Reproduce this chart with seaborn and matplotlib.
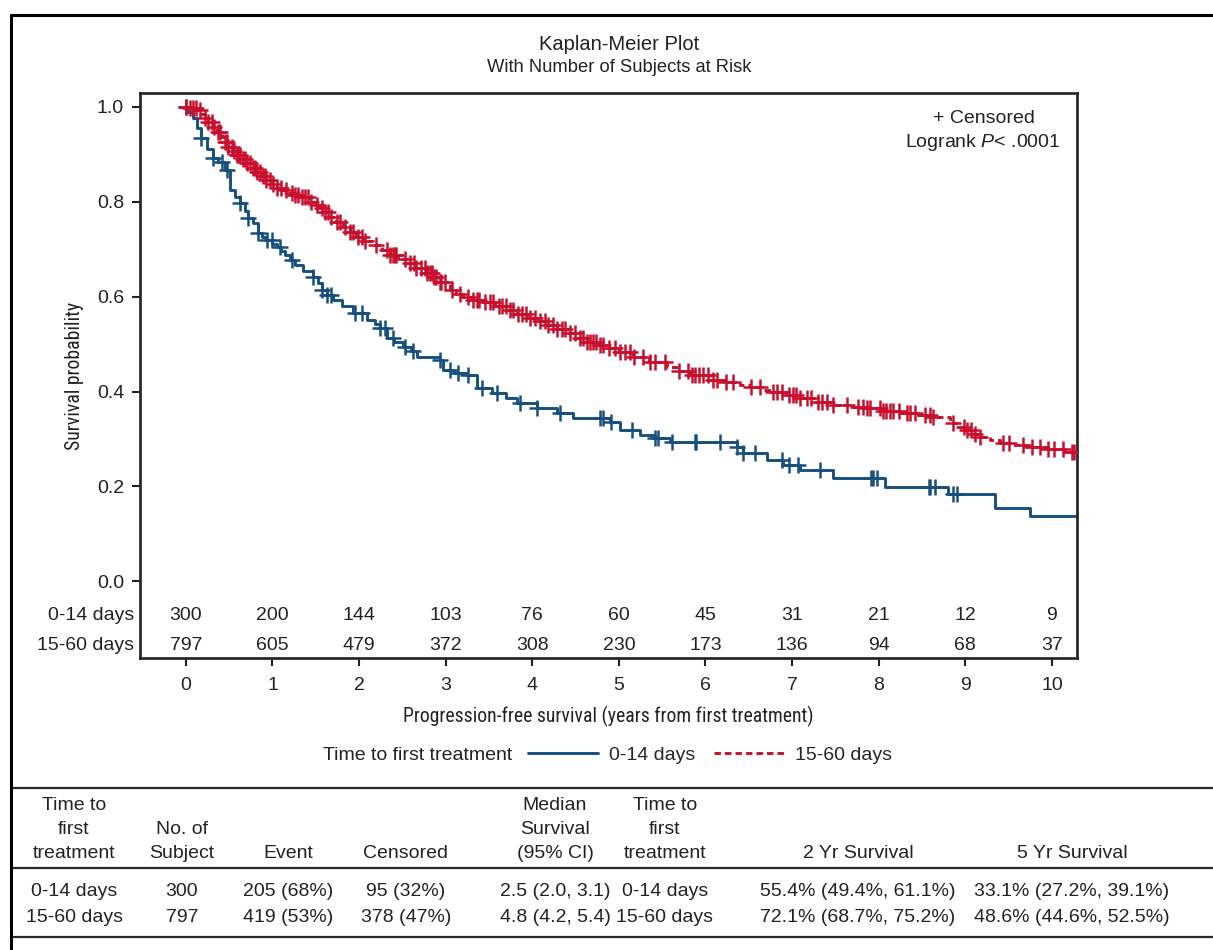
import numpy as np
import pandas as pd
import matplotlib
matplotlib.use('Agg')
import matplotlib.pyplot as plt
import seaborn as sns
from matplotlib import font_manager
from matplotlib.lines import Line2D

# ---- data ----
groups = ['0-14 days', '15-60 days']

# Kaplan-Meier steps (years, survival), 0-14 days
km_time_a = [0, 0.03, 0.08, 0.13, 0.18, 0.24, 0.31, 0.37, 0.45, 0.51, 0.57, 0.62, 0.68, 0.72,
             0.78, 0.83, 0.88, 0.93, 1.00, 1.05, 1.10, 1.14, 1.20, 1.26, 1.35, 1.47, 1.52, 1.57,
             1.63, 1.70, 1.80, 1.93, 2.09, 2.18, 2.24, 2.32, 2.40, 2.51, 2.60, 2.67, 2.93, 2.97,
             3.10, 3.24, 3.36, 3.54, 3.70, 3.82, 4.05, 4.28, 4.47, 4.90, 5.01, 5.24, 5.42, 5.59,
             6.36, 6.43, 6.71, 6.89, 7.09, 7.47, 8.07, 8.80, 9.34, 9.75, 10.3]
km_surv_a = [1.0, 0.99, 0.977, 0.955, 0.934, 0.912, 0.892, 0.885, 0.867, 0.825, 0.81, 0.797, 0.78,
             0.766, 0.755, 0.734, 0.725, 0.719, 0.712, 0.705, 0.697, 0.688, 0.678, 0.667, 0.655,
             0.641, 0.628, 0.614, 0.603, 0.593, 0.58, 0.565, 0.551, 0.542, 0.534, 0.513, 0.505,
             0.494, 0.485, 0.473, 0.466, 0.445, 0.44, 0.435, 0.407, 0.397, 0.387, 0.375, 0.365,
             0.354, 0.344, 0.335, 0.319, 0.308, 0.302, 0.293, 0.283, 0.270, 0.255, 0.245, 0.234,
             0.217, 0.198, 0.184, 0.154, 0.137, 0.137]
censor_a = [0.0, 0.18, 0.31, 0.42, 0.47, 0.62, 0.72, 0.83, 0.94, 0.99, 1.09, 1.22, 1.47, 1.57,
            1.63, 1.68, 1.95, 2.03, 2.24, 2.30, 2.39, 2.53, 2.62, 2.93, 3.05, 3.14, 3.26, 3.42,
            3.59, 3.86, 4.05, 4.32, 4.78, 4.82, 4.91, 5.15, 5.42, 5.45, 5.61, 5.88, 5.89, 6.17,
            6.36, 6.43, 6.57, 6.88, 6.97, 7.07, 7.32, 7.91, 7.93, 7.98, 8.58, 8.59, 8.65, 8.86,
            8.90]

# Kaplan-Meier steps, 15-60 days
km_time_b = [0, 0.05, 0.14, 0.18, 0.22, 0.26, 0.31, 0.36, 0.42, 0.45, 0.49, 0.54, 0.59, 0.64,
             0.70, 0.76, 0.82, 0.87, 0.93, 0.99, 1.05, 1.11, 1.17, 1.25, 1.32, 1.43, 1.49, 1.55,
             1.60, 1.66, 1.73, 1.81, 1.89, 1.97, 2.06, 2.16, 2.26, 2.36, 2.45, 2.55, 2.66, 2.78,
             2.85, 2.93, 3.05, 3.12, 3.20, 3.30, 3.43, 3.57, 3.71, 3.82, 3.94, 4.05, 4.17, 4.28,
             4.40, 4.51, 4.63, 4.75, 4.86, 5.00, 5.16, 5.35, 5.55, 5.68, 5.82, 6.05, 6.22, 6.40,
             6.51, 6.65, 6.78, 6.95, 7.09, 7.28, 7.47, 7.66, 7.86, 8.05, 8.24, 8.45, 8.63, 8.82,
             8.92, 9.02, 9.10, 9.17, 9.28, 9.40, 9.55, 9.71, 9.95, 10.15, 10.3]
km_surv_b = [1.0, 0.997, 0.994, 0.985, 0.977, 0.968, 0.958, 0.948, 0.937, 0.927, 0.916, 0.907,
             0.899, 0.89, 0.882, 0.872, 0.863, 0.855, 0.846, 0.837, 0.829, 0.824, 0.819, 0.815,
             0.810, 0.800, 0.794, 0.787, 0.778, 0.768, 0.758, 0.747, 0.736, 0.726, 0.717, 0.709,
             0.698, 0.688, 0.680, 0.671, 0.660, 0.650, 0.641, 0.631, 0.614, 0.606, 0.599, 0.594,
             0.589, 0.580, 0.572, 0.563, 0.555, 0.548, 0.540, 0.531, 0.523, 0.513, 0.504, 0.498,
             0.492, 0.483, 0.473, 0.462, 0.451, 0.443, 0.435, 0.424, 0.419, 0.414, 0.409, 0.404,
             0.399, 0.392, 0.386, 0.378, 0.371, 0.368, 0.365, 0.359, 0.354, 0.350, 0.346, 0.333,
             0.326, 0.319, 0.311, 0.304, 0.297, 0.291, 0.287, 0.283, 0.278, 0.272, 0.272]
censor_b = [0.0, 0.05, 0.08, 0.12, 0.16, 0.22, 0.26, 0.30, 0.33, 0.37, 0.39, 0.45, 0.47, 0.49,
            0.53, 0.55, 0.59, 0.60, 0.62, 0.66, 0.68, 0.70, 0.74, 0.78, 0.80, 0.82, 0.85, 0.89,
            0.91, 0.93, 0.97, 1.01, 1.05, 1.10, 1.16, 1.22, 1.26, 1.30, 1.34, 1.37, 1.41, 1.45,
            1.51, 1.57, 1.61, 1.64, 1.68, 1.74, 1.78, 1.84, 1.89, 1.93, 1.99, 2.03, 2.07, 2.20,
            2.32, 2.36, 2.39, 2.41, 2.43, 2.53, 2.59, 2.63, 2.66, 2.72, 2.76, 2.78, 2.82, 2.84,
            2.86, 2.89, 2.93, 2.95, 2.99, 3.07, 3.16, 3.26, 3.32, 3.36, 3.39, 3.45, 3.51, 3.55,
            3.61, 3.65, 3.70, 3.74, 3.78, 3.84, 3.88, 3.93, 3.97, 4.03, 4.09, 4.15, 4.18, 4.24,
            4.28, 4.34, 4.38, 4.43, 4.49, 4.55, 4.59, 4.63, 4.67, 4.70, 4.74, 4.78, 4.82, 4.88,
            4.95, 5.01, 5.07, 5.13, 5.17, 5.28, 5.36, 5.42, 5.53, 5.69, 5.80, 5.84, 5.88, 5.92,
            5.97, 6.03, 6.09, 6.13, 6.24, 6.32, 6.53, 6.63, 6.78, 6.82, 6.88, 6.97, 7.01, 7.05,
            7.09, 7.17, 7.22, 7.30, 7.34, 7.40, 7.47, 7.63, 7.76, 7.82, 7.86, 7.90, 8.01, 8.05,
            8.09, 8.13, 8.17, 8.23, 8.33, 8.36, 8.42, 8.53, 8.59, 8.63, 8.86, 8.98, 9.02, 9.07,
            9.11, 9.17, 9.44, 9.50, 9.67, 9.77, 9.86, 9.96, 10.03, 10.13, 10.23, 10.26]

risk_years = list(range(0, 11))
at_risk_a = [300, 200, 144, 103, 76, 60, 45, 31, 21, 12, 9]
at_risk_b = [797, 605, 479, 372, 308, 230, 173, 136, 94, 68, 37]

table_header = [['Time to', 'first', 'treatment'], ['No. of', 'Subject'], ['Event'], ['Censored'],
                ['Median', 'Survival', '(95% CI)'], ['Time to', 'first', 'treatment'],
                ['2 Yr Survival'], ['5 Yr Survival']]
table_rows = [['0-14 days', '300', '205 (68%)', '95 (32%)', '2.5 (2.0, 3.1)', '0-14 days',
               '55.4% (49.4%, 61.1%)', '33.1% (27.2%, 39.1%)'],
              ['15-60 days', '797', '419 (53%)', '378 (47%)', '4.8 (4.2, 5.4)', '15-60 days',
               '72.1% (68.7%, 75.2%)', '48.6% (44.6%, 52.5%)']]

# ---- style ----
BLUE = '#17507f'
RED = '#c8102e'
INK = '#222222'
W, H = 1213, 950

sns.set_theme(style='white')
names = {f.name for f in font_manager.fontManager.ttflist}
base = 'Liberation Sans' if 'Liberation Sans' in names else 'DejaVu Sans'
narrow = next((n for n in ['Liberation Sans Narrow', 'Roboto Condensed', 'Open Sans Condensed',
                           'DejaVu Sans Condensed'] if n in names), base)
plt.rcParams['font.family'] = [base, 'DejaVu Sans']
plt.rcParams['mathtext.fontset'] = 'custom'
plt.rcParams['mathtext.rm'] = base
plt.rcParams['mathtext.it'] = base + ':italic'

FS = 14


def fx(px):
    return px / W


def fy(py):
    return 1 - py / H


fig = plt.figure(figsize=(W / 100, H / 100), dpi=100)
ax = fig.add_axes([fx(140), fy(658), fx(1077) - fx(140), fy(93) - fy(658)])

# KM curves
km = pd.concat([
    pd.DataFrame({'time': km_time_a, 'surv': km_surv_a, 'group': groups[0]}),
    pd.DataFrame({'time': km_time_b, 'surv': km_surv_b, 'group': groups[1]}),
])
sns.lineplot(data=km, x='time', y='surv', hue='group', style='group',
             palette={groups[0]: BLUE, groups[1]: RED},
             dashes={groups[0]: '', groups[1]: (2.2, 1.4)},
             estimator=None, sort=False, drawstyle='steps-post', lw=2.1,
             legend=False, ax=ax)


def step_value(times, surv, t):
    idx = np.searchsorted(times, t, side='right') - 1
    return np.asarray(surv)[idx]


for times, surv, cens, col in [(km_time_a, km_surv_a, censor_a, BLUE),
                               (km_time_b, km_surv_b, censor_b, RED)]:
    sns.scatterplot(x=cens, y=step_value(times, surv, cens), marker='+', s=135,
                    color=col, linewidth=1.8, ax=ax, zorder=3)

ax.set_xlim(-0.53, 10.29)
ax.set_ylim(-0.162, 1.0295)
ax.set_xticks(risk_years)
ax.set_yticks([0, 0.2, 0.4, 0.6, 0.8, 1.0])
ax.set_yticklabels(['0.0', '0.2', '0.4', '0.6', '0.8', '1.0'])
ax.set_xlabel('')
ax.set_ylabel('')
ax.tick_params(axis='both', direction='out', length=6, width=1.5, color=INK,
               labelsize=FS, labelcolor=INK, left=True, bottom=True)
ax.tick_params(axis='y', pad=5.5)
ax.tick_params(axis='x', pad=8)
for sp in ax.spines.values():
    sp.set_visible(True)
    sp.set_linewidth(2)
    sp.set_color('#2a2a2a')

# number at risk, inside the axes
for yv, lab, vals in [(-0.072, groups[0], at_risk_a), (-0.135, groups[1], at_risk_b)]:
    ax.text(-0.006, yv, lab, transform=ax.get_yaxis_transform(), ha='right', va='center',
            fontsize=FS, color=INK)
    for t, v in zip(risk_years, vals):
        ax.text(t, yv, str(v), ha='center', va='center', fontsize=FS, color=INK)

ax.text(0.901, 0.955, '+ Censored', transform=ax.transAxes, ha='center', va='center',
        fontsize=FS, color=INK)
ax.text(0.899, 0.913, 'Logrank $P$< .0001', transform=ax.transAxes, ha='center',
        va='center', fontsize=FS, color=INK)

# titles and labels
fig.text(fx(619), fy(45), 'Kaplan-Meier Plot', ha='center', va='center', fontsize=14.5,
         color=INK)
fig.text(fx(619), fy(68), 'With Number of Subjects at Risk', ha='center', va='center',
         fontsize=13.2, color=INK)
fig.text(fx(75), fy(376), 'Survival probability', rotation=90, ha='center', va='center',
         fontsize=14.2, family=narrow, color=INK)
fig.text(fx(608), fy(716), 'Progression-free survival (years from first treatment)',
         ha='center', va='center', fontsize=14.2, family=narrow, color=INK)

# legend
fig.text(fx(512), fy(755), 'Time to first treatment', ha='right', va='center', fontsize=FS,
         color=INK)
handles = [Line2D([], [], color=BLUE, lw=2.1),
           Line2D([], [], color=RED, lw=2.1, dashes=(2.2, 1.4))]
fig.legend(handles, groups, loc='center left', bbox_to_anchor=(fx(528), fy(755)), ncol=2,
           frameon=False, fontsize=FS, handlelength=3.6, handletextpad=0.55,
           columnspacing=1.0, borderaxespad=0, borderpad=0)

# summary table
rule_kw = dict(color='#2a2a2a', lw=1.6)
for py in [788, 868, 937]:
    fig.add_artist(Line2D([fx(11), 1.0], [fy(py), fy(py)], **rule_kw))
col_x = [74, 182, 288, 406, 555, 665, 858, 1072]
head_y = [806, 830, 854]
for cx, lines in zip(col_x, table_header):
    for ln, py in zip(lines, head_y[3 - len(lines):]):
        fig.text(fx(cx), fy(py), ln, ha='center', va='center', fontsize=FS, color=INK)
for row, py in zip(table_rows, [892, 917]):
    for cx, cell in zip(col_x, row):
        fig.text(fx(cx), fy(py), cell, ha='center', va='center', fontsize=FS, color=INK)

# outer frame (left and top only)
fig.add_artist(Line2D([fx(11), fx(11)], [0, fy(15)], color='black', lw=2.2))
fig.add_artist(Line2D([fx(11), 1.0], [fy(15), fy(15)], color='black', lw=2.2))

fig.savefig('out.png', dpi=100)
